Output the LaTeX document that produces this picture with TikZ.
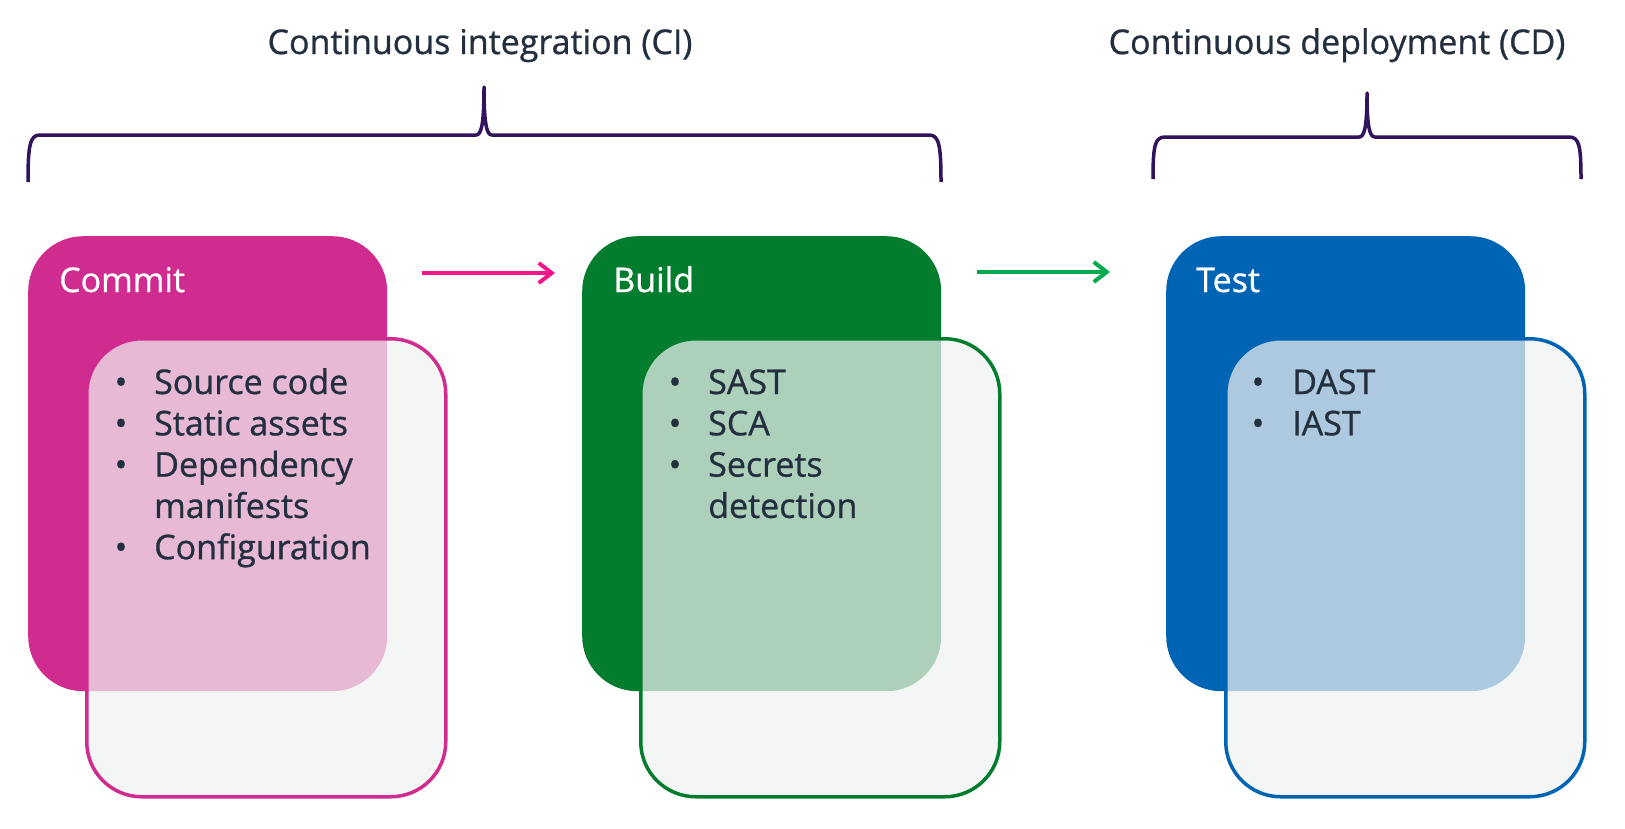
\documentclass[tikz,border=0pt]{standalone}
\usepackage{fontspec}
\setmainfont{Open Sans}[FakeBold=0.8]
\usetikzlibrary{calc, arrows.meta}

\begin{document}
\begin{tikzpicture}[x=1pt, y=-1pt,
    stagebox/.style={rectangle, rounded corners=55pt, minimum width=359pt, minimum height=455pt, inner sep=0pt, anchor=north west},
    detailbox/.style={rectangle, rounded corners=55pt, minimum width=359pt, minimum height=458pt, inner sep=0pt, anchor=north west, line width=3.5pt, fill=detailColour, fill opacity=0.72},
    stagetitle/.style={anchor=base west, inner sep=0pt, text=white, font=\fontsize{34}{41}\selectfont},
    itemtext/.style={anchor=base west, inner sep=0pt, text=textColour, font=\fontsize{34}{41}\selectfont},
    itembullet/.style={anchor=base, inner sep=0pt, text=textColour, font=\fontsize{34}{41}\selectfont},
    phasetitle/.style={anchor=base, inner sep=0pt, text=textColour, font=\fontsize{34}{41}\selectfont},
    phasebrace/.style={draw=braceColour, line width=3.5pt, line join=round},
    flowarrow/.style={line width=4pt, -{Straight Barb[length=13pt, width=20pt]}}]
    \definecolor{commitColour}{HTML}{D02B8E}
    \definecolor{buildColour}{HTML}{027D2E}
    \definecolor{testColour}{HTML}{0064B4}
    \definecolor{detailColour}{HTML}{F0F1F1}
    \definecolor{textColour}{HTML}{232F3E}
    \definecolor{braceColour}{HTML}{31135E}
    \definecolor{pinkArrow}{HTML}{F5148C}
    \definecolor{greenArrow}{HTML}{01A94F}

    \def\lineSkip{41.3}
    \useasboundingbox (0,0) rectangle (1625,828);

    % Phase titles
    \node[phasetitle] (ciTitle) at (480,54) {Continuous integration (CI)};
    \node[phasetitle] (cdTitle) at (1337,54) {Continuous deployment (CD)};

    % Draw braces
    \draw[phasebrace] (28,182) .. controls (28,145) and (30,135) .. (40,135) -- (476,135)
        .. controls (481,135) and (484,126) .. (484,87)
        .. controls (484,126) and (487,135) .. (492,135) -- (929,135)
        .. controls (939,135) and (941,145) .. (941,182);
    \draw[phasebrace] (1153,179) .. controls (1153,145) and (1155,137) .. (1165,137) -- (1359,137)
        .. controls (1364,137) and (1367,129) .. (1367,93)
        .. controls (1367,129) and (1370,137) .. (1375,137) -- (1569,137)
        .. controls (1579,137) and (1581,145) .. (1581,179);

    % Commit stage
    \node[stagebox, fill=commitColour] (commit) at (28,236) {};
    \node[detailbox, draw=commitColour] (commitDetail) at (85,337) {};
    \node[stagetitle] (commitTitle) at ($(commit.north west)+(31,56)$) {Commit};
    \node[itembullet] (commitBulletA) at ($(commit.north west)+(93,158)$) {•};
    \node[itemtext] (commitItemA) at ($(commit.north west)+(126,158)$) {Source code};
    \node[itembullet] (commitBulletB) at ($(commit.north west)+(93,158+\lineSkip)$) {•};
    \node[itemtext] (commitItemB) at ($(commit.north west)+(126,158+\lineSkip)$) {Static assets};
    \node[itembullet] (commitBulletC) at ($(commit.north west)+(93,158+2*\lineSkip)$) {•};
    \node[itemtext] (commitItemC) at ($(commit.north west)+(126,158+2*\lineSkip)$) {Dependency};
    \node[itemtext] (commitItemD) at ($(commit.north west)+(126,158+3*\lineSkip)$) {manifests};
    \node[itembullet] (commitBulletE) at ($(commit.north west)+(93,158+4*\lineSkip)$) {•};
    \node[itemtext] (commitItemE) at ($(commit.north west)+(126,158+4*\lineSkip)$) {Configuration};

    % Build stage
    \node[stagebox, fill=buildColour] (build) at (582,236) {};
    \node[detailbox, draw=buildColour] (buildDetail) at (639,337) {};
    \node[stagetitle] (buildTitle) at ($(build.north west)+(31,56)$) {Build};
    \node[itembullet] (buildBulletA) at ($(build.north west)+(93,158)$) {•};
    \node[itemtext] (buildItemA) at ($(build.north west)+(126,158)$) {SAST};
    \node[itembullet] (buildBulletB) at ($(build.north west)+(93,158+\lineSkip)$) {•};
    \node[itemtext] (buildItemB) at ($(build.north west)+(126,158+\lineSkip)$) {SCA};
    \node[itembullet] (buildBulletC) at ($(build.north west)+(93,158+2*\lineSkip)$) {•};
    \node[itemtext] (buildItemC) at ($(build.north west)+(126,158+2*\lineSkip)$) {Secrets};
    \node[itemtext] (buildItemD) at ($(build.north west)+(126,158+3*\lineSkip)$) {detection};

    % Test stage
    \node[stagebox, fill=testColour] (test) at (1166,236) {};
    \node[detailbox, draw=testColour] (testDetail) at (1224,337) {};
    \node[stagetitle] (testTitle) at ($(test.north west)+(30,56)$) {Test};
    \node[itembullet] (testBulletA) at ($(test.north west)+(92,158)$) {•};
    \node[itemtext] (testItemA) at ($(test.north west)+(126,158)$) {DAST};
    \node[itembullet] (testBulletB) at ($(test.north west)+(92,158+\lineSkip)$) {•};
    \node[itemtext] (testItemB) at ($(test.north west)+(126,158+\lineSkip)$) {IAST};

    % Draw arrows between stages
    \coordinate (commitOut) at (422,273);
    \coordinate (buildIn) at (555,273);
    \coordinate (buildOut) at (977,272);
    \coordinate (testIn) at (1110,272);
    \draw[flowarrow, pinkArrow] (commitOut) -- (buildIn);
    \draw[flowarrow, greenArrow] (buildOut) -- (testIn);

\end{tikzpicture}
\end{document}
